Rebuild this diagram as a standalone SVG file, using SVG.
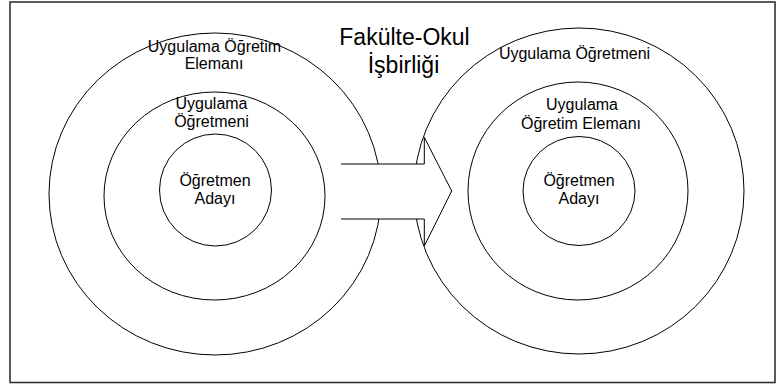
<svg xmlns="http://www.w3.org/2000/svg" width="776" height="385" viewBox="0 0 776 385">
<style>
.ring{fill:none;stroke:#000;stroke-width:1}
.lbl{font-family:"Liberation Sans",Arial,sans-serif;font-size:16px;fill:#000;text-anchor:middle}
.title{font-family:"Liberation Sans",Arial,sans-serif;font-size:23px;fill:#000;text-anchor:middle}
</style>
<rect x="0" y="0" width="776" height="385" fill="#fff"/>
<rect x="10" y="2" width="765" height="380.5" fill="none" stroke="#333" stroke-width="1.6"/>
<g id="left-outer">
<ellipse class="ring" cx="215" cy="194" rx="166" ry="161"/>
<text class="lbl" x="214.5" y="51.5">Uygulama Öğretim</text>
<text class="lbl" x="214" y="69">Elemanı</text>
</g>
<g id="left-middle">
<ellipse class="ring" cx="214.5" cy="196" rx="110.5" ry="104"/>
<text class="lbl" x="211.5" y="108.5">Uygulama</text>
<text class="lbl" x="211.5" y="127">Öğretmeni</text>
</g>
<g id="left-inner">
<ellipse class="ring" cx="215.5" cy="190" rx="56" ry="56"/>
<text class="lbl" x="215" y="185.5">Öğretmen</text>
<text class="lbl" x="215" y="203.5">Adayı</text>
</g>
<g id="right-outer">
<ellipse class="ring" cx="579" cy="191" rx="165" ry="163"/>
<text class="lbl" x="574.5" y="59">Uygulama Öğretmeni</text>
</g>
<g id="right-middle">
<ellipse class="ring" cx="578" cy="191" rx="110" ry="109"/>
<text class="lbl" x="582" y="110">Uygulama</text>
<text class="lbl" x="581" y="129">Öğretim Elemanı</text>
</g>
<g id="right-inner">
<ellipse class="ring" cx="579" cy="191" rx="56" ry="54.5"/>
<text class="lbl" x="579" y="185.5">Öğretmen</text>
<text class="lbl" x="579" y="203.5">Adayı</text>
</g>
<g id="title">
<text class="title" x="404.5" y="44.5">Fakülte-Okul</text>
<text class="title" x="403.5" y="72.5">İşbirliği</text>
</g>
<g id="connectors">
<polygon points="341,164 424.3,164 424.3,137.3 451.7,191 424.3,246 424.3,219 341,219" fill="#fff" stroke="none"/>
<path d="M341,164 H424.3 V137.3 L451.7,191 L424.3,246 V219 H341" fill="none" stroke="#000" stroke-width="1"/>
</g>
</svg>
